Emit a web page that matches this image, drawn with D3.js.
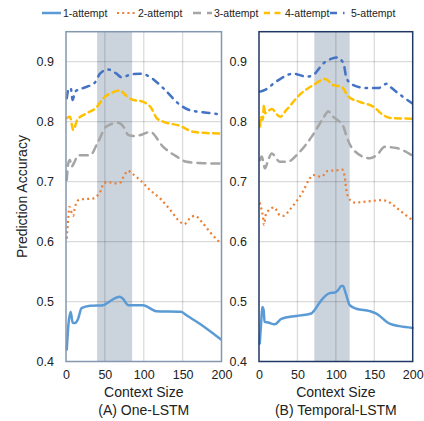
<!DOCTYPE html>
<html>
<head>
<meta charset="utf-8">
<script src="https://cdn.jsdelivr.net/npm/d3@7"></script>
<style>
  body { margin: 0; background: #fff; }
  text { font-family: "Liberation Sans", Arial, sans-serif; fill: #222; }
</style>
</head>
<body>
<div id="chart"></div>
<script>
const seriesNames = ["1-attempt", "2-attempt", "3-attempt", "4-attempt", "5-attempt"];
const xTicks = [0, 50, 100, 150, 200];
const yTicks = [0.4, 0.5, 0.6, 0.7, 0.8, 0.9];
const panelTitles = ["(A) One-LSTM", "(B) Temporal-LSTM"];
const bands = [[40, 85], [72, 118]];

// [context size, accuracy]
const one1 = [[1,0.42],[3,0.46],[6,0.483],[8.5,0.465],[11.5,0.464],[15.5,0.471],[20,0.489],[31,0.493],[48,0.494],[56,0.5],[69,0.508],[73,0.505],[80,0.494],[99,0.494],[116,0.484],[148,0.483],[155,0.477],[172,0.463],[199,0.437]];
const one2 = [[1,0.605],[1.7,0.62],[3,0.641],[4.3,0.658],[6.4,0.651],[9.4,0.643],[11.6,0.658],[17,0.67],[35,0.672],[40,0.676],[46,0.689],[48,0.697],[54,0.699],[65,0.697],[70.5,0.699],[74,0.708],[80,0.718],[84.5,0.714],[95,0.703],[108,0.686],[121,0.672],[134,0.653],[146.5,0.633],[152,0.629],[159.5,0.639],[166,0.643],[174.5,0.633],[185,0.616],[199,0.597]];
const one3 = [[1,0.703],[3,0.731],[5,0.736],[7.3,0.725],[10.3,0.731],[15.8,0.744],[31,0.744],[41.5,0.767],[52,0.792],[67,0.798],[73.7,0.792],[80,0.778],[86.6,0.776],[97,0.778],[108,0.783],[125,0.758],[142,0.742],[155,0.733],[172,0.731],[199,0.73]];
const one4 = [[1,0.806],[5,0.808],[9.4,0.786],[14.5,0.803],[26.6,0.814],[39.4,0.824],[48,0.839],[58.7,0.848],[69.5,0.852],[76,0.845],[84.5,0.837],[99.4,0.833],[110,0.822],[116.6,0.806],[125,0.8],[146.6,0.793],[163.6,0.783],[181,0.781],[199,0.78]];
const one5 = [[1,0.839],[3,0.853],[6,0.856],[8.6,0.836],[11.6,0.85],[22,0.856],[37,0.865],[43.7,0.88],[54,0.887],[65,0.88],[71.5,0.874],[84.5,0.879],[97,0.88],[106,0.876],[125,0.856],[146.6,0.828],[159.5,0.819],[181,0.815],[199,0.812]];

const tem1 = [[1,0.43],[3,0.469],[4.3,0.491],[6,0.486],[7.3,0.466],[11.7,0.465],[20.4,0.462],[29,0.471],[48.6,0.476],[68,0.48],[72.4,0.486],[81,0.502],[92,0.514],[98.5,0.515],[103,0.519],[107,0.526],[109.3,0.526],[112.8,0.514],[118,0.494],[126.7,0.488],[144,0.484],[152.7,0.48],[170,0.463],[183,0.459],[200,0.456]];
const tem2 = [[1,0.665],[3,0.655],[5.2,0.641],[6.5,0.628],[8.7,0.644],[11.7,0.651],[20.4,0.657],[23.4,0.651],[27,0.644],[32,0.643],[40,0.653],[48.6,0.667],[57,0.683],[65,0.703],[70.3,0.711],[81,0.708],[89.7,0.718],[103,0.719],[108.4,0.72],[111.5,0.708],[113.7,0.686],[118,0.67],[124.5,0.665],[142,0.667],[159,0.669],[165.7,0.668],[174.4,0.661],[185,0.65],[199.5,0.636]];
const tem3 = [[1.3,0.736],[3.5,0.742],[7.8,0.722],[12,0.736],[16.5,0.747],[27.3,0.733],[37,0.733],[51,0.747],[68.6,0.775],[83.7,0.806],[90,0.817],[96.7,0.808],[109.7,0.792],[114,0.775],[122.7,0.753],[144.4,0.739],[153,0.744],[164,0.758],[179,0.756],[198.7,0.744]];
const tem4 = [[1.3,0.792],[2.2,0.808],[4.8,0.803],[6.5,0.828],[7.8,0.814],[16.5,0.821],[27.3,0.808],[36,0.82],[53,0.845],[70.7,0.861],[86,0.871],[96.7,0.861],[107.6,0.858],[116,0.842],[131,0.833],[148.7,0.825],[161.7,0.811],[170.5,0.806],[198.7,0.805]];
const tem5 = [[1.3,0.85],[7.8,0.853],[22.6,0.867],[44.6,0.88],[62,0.875],[70.7,0.878],[83.7,0.897],[94.6,0.905],[101,0.907],[109.7,0.898],[114,0.872],[122.7,0.861],[140,0.856],[155,0.856],[166,0.863],[172.7,0.856],[183.5,0.845],[198.7,0.831]];

const panelSeries = [[one1, one2, one3, one4, one5], [tem1, tem2, tem3, tem4, tem5]];

const styles = [
  { color: "#5b9bd5", width: 2.5, dash: null, cap: "round" },
  { color: "#ed7d31", width: 2.2, dash: "2,3.2", cap: "butt" },
  { color: "#a5a5a5", width: 2.5, dash: "8,6", cap: "round" },
  { color: "#ffc000", width: 2.5, dash: "6,4.5", cap: "round" },
  { color: "#4472c4", width: 2.5, dash: "7,6,1.5,6", cap: "round" }
];

const W = 424, H = 421;
const svg = d3.select("#chart").append("svg")
    .attr("width", W)
    .attr("height", H);

const panels = [
  { x0: 66, x1: 221.5, frame: "#8496b0" },
  { x0: 259, x1: 412.7, frame: "#203864" }
];
const plotTop = 31.7, plotBottom = 361.5;

const y = d3.scaleLinear().domain([0.4, 0.95]).range([plotBottom, plotTop]);

panels.forEach((p, i) => {
    const x = d3.scaleLinear().domain([0, 200]).range([p.x0, p.x1]);
    const g = svg.append("g");

    // shaded band
    g.append("rect")
        .attr("x", x(bands[i][0]))
        .attr("y", plotTop)
        .attr("width", x(bands[i][1]) - x(bands[i][0]))
        .attr("height", plotBottom - plotTop)
        .attr("fill", "#cbd3dd");

    // grid
    g.append("g")
        .selectAll("line")
        .data(xTicks.slice(1, -1))
        .join("line")
        .attr("x1", d => x(d)).attr("x2", d => x(d))
        .attr("y1", plotTop).attr("y2", plotBottom)
        .attr("stroke", "#000").attr("stroke-opacity", 0.14).attr("stroke-width", 1.3);
    g.append("g")
        .selectAll("line")
        .data(yTicks.slice(1))
        .join("line")
        .attr("x1", p.x0).attr("x2", p.x1)
        .attr("y1", d => y(d)).attr("y2", d => y(d))
        .attr("stroke", "#000").attr("stroke-opacity", 0.14).attr("stroke-width", 1.3);

    // axes (labels only)
    const xAxis = d3.axisBottom(x).tickValues(xTicks).tickSize(0).tickPadding(9).tickFormat(d3.format("d"));
    const yAxis = d3.axisLeft(y).tickValues(yTicks).tickSize(0).tickPadding(12).tickFormat(d3.format(".1f"));
    g.append("g")
        .attr("transform", `translate(0,${plotBottom})`)
        .call(xAxis)
        .call(a => a.select(".domain").remove())
        .selectAll("text")
        .attr("font-size", 12.5)
        .attr("font-family", "Liberation Sans, Arial, sans-serif")
        .attr("fill", "#222");
    g.append("g")
        .attr("transform", `translate(${p.x0},0)`)
        .call(yAxis)
        .call(a => a.select(".domain").remove())
        .selectAll("text")
        .attr("font-size", 12.5)
        .attr("font-family", "Liberation Sans, Arial, sans-serif")
        .attr("fill", "#222");

    // lines
    const line = d3.line()
        .curve(d3.curveMonotoneX)
        .x(d => x(d[0]))
        .y(d => y(d[1]));

    g.append("g")
        .selectAll("path")
        .data(panelSeries[i])
        .join("path")
        .attr("d", line)
        .attr("fill", "none")
        .attr("stroke", (d, k) => styles[k].color)
        .attr("stroke-width", (d, k) => styles[k].width)
        .attr("stroke-dasharray", (d, k) => styles[k].dash)
        .attr("stroke-linecap", (d, k) => styles[k].cap)
        .attr("stroke-linejoin", "round");

    // frame
    g.append("rect")
        .attr("x", p.x0).attr("y", plotTop)
        .attr("width", p.x1 - p.x0).attr("height", plotBottom - plotTop)
        .attr("fill", "none")
        .attr("stroke", p.frame)
        .attr("stroke-width", 1.5);

    g.append("text")
        .attr("x", (p.x0 + p.x1) / 2)
        .attr("y", 397)
        .attr("text-anchor", "middle")
        .attr("font-size", 14)
        .text("Context Size");

    g.append("text")
        .attr("x", (p.x0 + p.x1) / 2)
        .attr("y", 415)
        .attr("text-anchor", "middle")
        .attr("font-size", 14)
        .text(panelTitles[i]);
});

svg.append("text")
    .attr("transform", `translate(27,${(plotTop + plotBottom) / 2}) rotate(-90)`)
    .attr("text-anchor", "middle")
    .attr("font-size", 14)
    .text("Prediction Accuracy");

// legend
const legendX = [42, 117, 193, 264, 330];
const legend = svg.append("g")
    .selectAll("g")
    .data(seriesNames)
    .join("g")
    .attr("transform", (d, k) => `translate(${legendX[k]},13)`);

legend.append("line")
    .attr("x1", 0).attr("x2", 19)
    .attr("stroke", (d, k) => styles[k].color)
    .attr("stroke-width", (d, k) => styles[k].width)
    .attr("stroke-dasharray", (d, k) => styles[k].dash);

legend.append("text")
    .attr("x", 21)
    .attr("dy", "0.35em")
    .attr("font-size", 10.5)
    .text(d => d);
</script>
</body>
</html>
